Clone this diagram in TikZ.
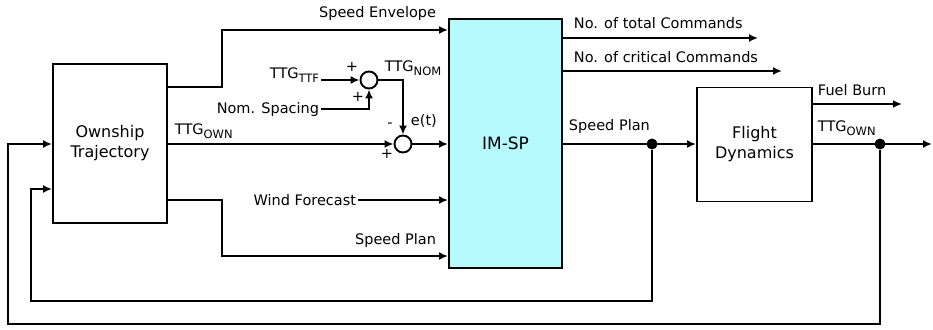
\documentclass[tikz,border=0pt]{standalone}
\usepackage{fontspec}
\setmainfont{DejaVu Sans}
\usetikzlibrary{arrows.meta,calc,positioning}
\definecolor{imcyan}{RGB}{183,250,253}
\newcommand{\sbs}[1]{\raisebox{-0.3em}{\fontsize{11.5}{12}\selectfont #1}}

\begin{document}
\begin{tikzpicture}[x=1pt,y=-1pt,line width=1.9pt,
    >={Latex[length=9pt,width=8pt]},
    font=\fontsize{14.5}{17}\selectfont,
    block/.style={draw,align=center,inner sep=2pt,font=\fontsize{16}{20}\selectfont},
    sumnode/.style={draw,circle,minimum size=17pt,inner sep=0pt},
    lbl/.style={inner sep=1pt},
    junc/.style={fill,circle,minimum size=11pt,inner sep=0pt}]
                \useasboundingbox (0,0) rectangle (933,329);
                % rows and columns
                \coordinate (rEnv) at (0,30);
                \coordinate (rTot) at (0,38);
                \coordinate (rCrit) at (0,71);
                \coordinate (rUp) at (0,87);
                \coordinate (rFuel) at (0,104);
                \coordinate (rMain) at (0,144);
                \coordinate (rFbIn) at (0,189);
                \coordinate (rWind) at (0,200);
                \coordinate (rPlan) at (0,256);
                \coordinate (rFbA) at (0,301);
                \coordinate (rFbB) at (0,324);
                \coordinate (jog) at (222,0);
                \coordinate (fbA) at (31,0);
                \coordinate (fbB) at (8,0);
                \coordinate (totEnd) at (758,38);
                \coordinate (critEnd) at (782,71);
                \coordinate (fuelEnd) at (902,104);
                \coordinate (outEnd) at (932,144);
                % blocks
                \node[block,minimum width=114pt,minimum height=159pt] (own) at (110,143.5) {Ownship\\Trajectory};
                \node[block,fill=imcyan,minimum width=113pt,minimum height=249pt,font=\fontsize{17}{20}\selectfont] (imsp) at (505.5,143.5) {IM-SP};
                \node[block,minimum width=115pt,minimum height=114pt] (fd) at (754.5,144.5) {Flight\\Dynamics};
                \node[sumnode] (sum1) at (369,80) {};
                \node[sumnode] (sum2) at (403,144) {};
                \node[junc] (dot1) at (652,144) {};
                \node[junc] (dot2) at (880,144) {};
                % labels
                \node[lbl,anchor=east] at (438,14) {Speed Envelope};
                \node[lbl,anchor=west] at (572,23) {No. of total Commands};
                \node[lbl,anchor=west] at (572,57) {No. of critical Commands};
                \node[lbl,anchor=east] (ttf) at (321,75) {TTG\sbs{TTF}};
                \node[lbl,anchor=east] (nom) at (321,109) {Nom. Spacing};
                \node[lbl,anchor=west] at (383,68) {TTG\sbs{NOM}};
                \node[lbl,anchor=west] at (409,121) {e(t)};
                \node[lbl] at (352,67) {+};
                \node[lbl] at (358,97) {+};
                \node[lbl] at (390,125) {-};
                \node[lbl] at (387,154) {+};
                \node[lbl,anchor=west] at (173,131) {TTG\sbs{OWN}};
                \node[lbl,anchor=east] (wind) at (358,200) {Wind Forecast};
                \node[lbl,anchor=east] at (438,240) {Speed Plan};
                \node[lbl,anchor=west] at (567,126) {Speed Plan};
                \node[lbl,anchor=west] at (816,90) {Fuel Burn};
                \node[lbl,anchor=west] at (816,128) {TTG\sbs{OWN}};
                % connectors
                \draw[->] (own.east |- rUp) -| (jog |- rEnv) -- (imsp.west |- rEnv);
                \draw[->] (own.east |- rWind) -| (jog |- rPlan) -- (imsp.west |- rPlan);
                \draw[->] (own.east |- rMain) -- (sum2.west);
                \draw[->] (sum2.east) -- (imsp.west |- sum2);
                \draw[->] (ttf.east |- sum1) -- (sum1.west);
                \draw[->] (nom.east) -| (sum1.south);
                \draw[->] (sum1.east) -| (sum2.north);
                \draw[->] (wind.east) -- (imsp.west |- wind);
                \draw[->] (imsp.east |- rTot) -- (totEnd);
                \draw[->] (imsp.east |- rCrit) -- (critEnd);
                \draw[->] (imsp.east |- rMain) -- (fd.west |- rMain);
                \draw[->] (fd.east |- rFuel) -- (fuelEnd);
                \draw[->] (fd.east |- rMain) -- (outEnd);
                \draw[->] (dot1) -- (dot1 |- rFbA) -| (fbA |- rFbIn) -- (own.west |- rFbIn);
                \draw[->] (dot2) -- (dot2 |- rFbB) -| (fbB |- rMain) -- (own.west |- rMain);
            \end{tikzpicture}
\end{document}
